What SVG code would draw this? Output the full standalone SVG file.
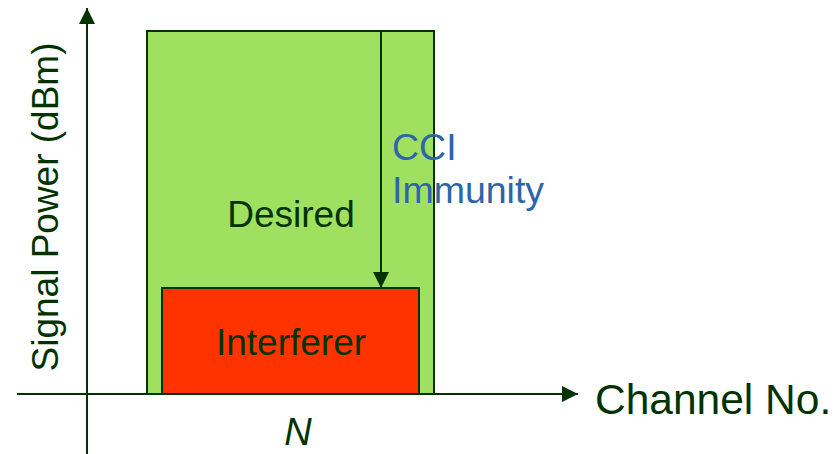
<svg xmlns="http://www.w3.org/2000/svg" width="840" height="454" viewBox="0 0 840 454">
<style>
.lbl{font-family:"Liberation Sans",Arial,sans-serif;fill:#003300}
.ax{stroke:#003300;stroke-width:2;fill:none}
.box{stroke:#003300;stroke-width:2}
</style>
<defs>
<marker id="ah" markerWidth="16" markerHeight="16" refX="16" refY="8" orient="auto" markerUnits="userSpaceOnUse">
<path d="M0,0 L16,8 L0,16 Z" fill="#003300"/>
</marker>
</defs>
<rect width="840" height="454" fill="#ffffff"/>
<g id="desired">
<rect class="box" x="147" y="31" width="287" height="363" fill="#a0e060"/>
<text class="lbl" x="291" y="227" font-size="37" text-anchor="middle">Desired</text>
</g>
<g id="interferer">
<rect class="box" x="162" y="288" width="257" height="106" fill="#ff3300"/>
<text class="lbl" x="291" y="355" font-size="37" text-anchor="middle">Interferer</text>
</g>
<g id="connectors">
<line class="ax" x1="17" y1="394" x2="578" y2="394" marker-end="url(#ah)"/>
<line class="ax" x1="87" y1="454" x2="87" y2="8" marker-end="url(#ah)"/>
<line class="ax" x1="381" y1="31" x2="381" y2="288" marker-end="url(#ah)"/>
</g>
<g id="cci-label">
<text font-family="'Liberation Sans',Arial,sans-serif" fill="#2e64a8" font-size="37.5"><tspan x="392" y="160">CCI</tspan><tspan x="392" y="203">Immunity</tspan></text>
</g>
<g id="x-axis-label">
<text class="lbl" x="595" y="414" font-size="42.5">Channel No.</text>
</g>
<g id="y-axis-label">
<text class="lbl" transform="translate(58,207) rotate(-90)" font-size="37" text-anchor="middle">Signal Power (dBm)</text>
</g>
<g id="n-label">
<text class="lbl" x="298" y="445" font-size="38" font-style="italic" text-anchor="middle">N</text>
</g>
</svg>
